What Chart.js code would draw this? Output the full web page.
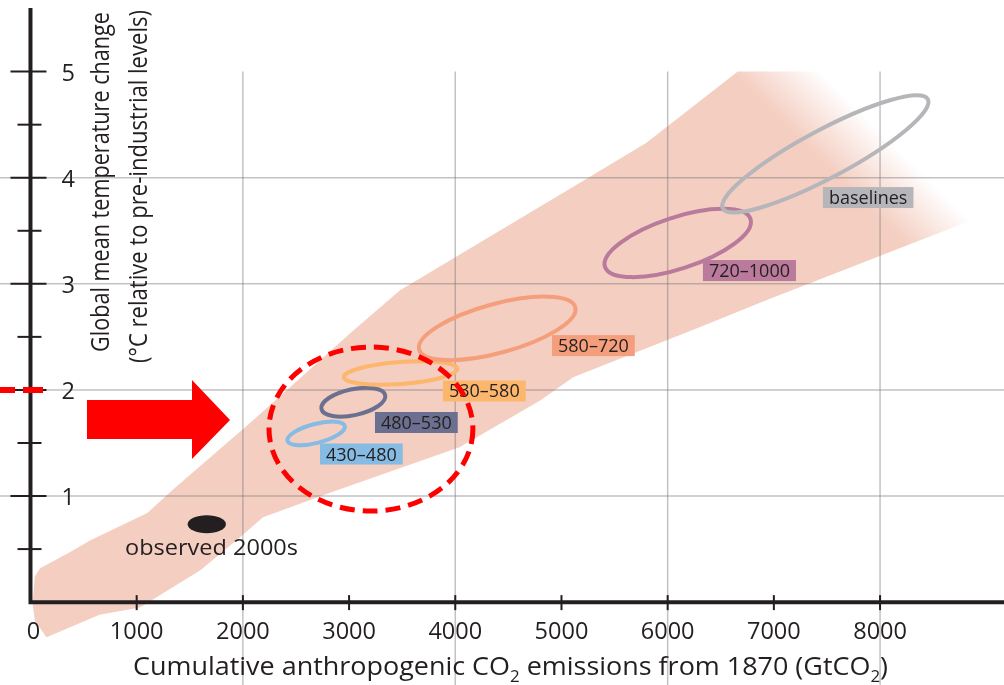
<!DOCTYPE html>
<html>
<head>
<meta charset="utf-8">
<script src="https://cdn.jsdelivr.net/npm/chart.js@4.4.1/dist/chart.umd.min.js"></script>
<style>
html,body{margin:0;padding:0;background:#ffffff;}
#wrap{width:1004px;height:685px;position:relative;overflow:hidden;}
</style>
</head>
<body>
<div id="wrap"><canvas id="c" width="1004" height="685"></canvas></div>
<script>
// ---------------- DATA ----------------
const xTickValues = [0, 1000, 2000, 3000, 4000, 5000, 6000, 7000, 8000];
const xTickLabels = ['0', '1000', '2000', '3000', '4000', '5000', '6000', '7000', '8000'];
const xGridValues = [2000, 4000, 6000, 8000];
const yTickValues = [1, 2, 3, 4, 5];
const yTickLabels = ['1', '2', '3', '4', '5'];
const yMinorTickValues = [0.5, 1.5, 2.5, 3.5, 4.5];
const yGridValues = [1, 2, 3, 4];

// Uncertainty band (upper edge left -> right, then lower edge right -> left)
const bandUpperX = [90, 370, 560, 1100, 1340, 2070, 3040, 3480, 5170, 5800, 6660, 9250];
const bandUpperY = [0.32, 0.47, 0.58, 0.84, 1.06, 1.69, 2.56, 2.94, 3.95, 4.33, 5.0, 5.0];
const bandLowerX = [9250, 8940, 6940, 6300, 5110, 4800, 4040, 2820, 2190, 1970, 1600, 1030, 650, 150, 40, 20, 40];
const bandLowerY = [3.72, 3.63, 2.85, 2.59, 2.12, 1.90, 1.46, 1.03, 0.80, 0.61, 0.30, -0.05, -0.12, -0.33, -0.17, -0.01, 0.24];

// Scenario categories (CO2-eq concentration ranges, ppm)
const scenarioNames = ['430–480', '480–530', '530–580', '580–720', '720–1000', 'baselines'];
const scenarioEmisLow  = [2420, 2740, 2950, 3660, 5410, 6520];
const scenarioTempLow  = [1.52, 1.82, 2.12, 2.38, 3.16, 3.71];
const scenarioEmisHigh = [2960, 3340, 4020, 5130, 6780, 8450];
const scenarioTempHigh = [1.66, 1.95, 2.20, 2.78, 3.61, 4.74];

// Observed 2000s
const observedLabel = 'observed 2000s';
const observedEmis = [1480, 1840];
const observedTemp = [0.65, 0.82];

// 2 °C threshold
const thresholdTemp = 2;

// ---------------- LAYOUT / STYLE ----------------
const FONT = '"Open Sans", "Noto Sans", "DejaVu Sans", sans-serif';
const INK = '#231f20';
const RED = '#ff0000';
const BAND_RGB = '244,206,193';
const GRID_COLOR = 'rgba(120,120,120,0.45)';
const scenarioColors = ['#86bbe3', '#6b7090', '#fcb76c', '#f49e7c', '#b97a9c', '#b6b6ba'];
const scenarioMinorPx = [9.5, 13, 11, 24.5, 25.7, 24];
const labelAnchorX = [2726, 3244, 3884, 4911, 6332, 7462];
const labelAnchorY = [1.396, 1.693, 1.99, 2.418, 3.125, 3.813];
const fadeFrom = {x: 7246, y: 4.355};
const fadeTo = {x: 7669, y: 4.779};
const focusCircle = {x: 3206, y: 1.631, rx: 960, ry: 0.773};
const arrowShape = {tail: 532, neck: 1521, tip: 1879, y: 1.717, bodyTop: 1.905, bodyBot: 1.537, headTop: 2.094, headBot: 1.349};
const thresholdLineEnd = 118;
const gridTop = 5;
const yAxisTop = 5.6;

function fitText(ctx, segs, x, y, targetW, align) {
  let w = 0;
  segs.forEach(s => { ctx.font = s.size + 'px ' + FONT; s.w = ctx.measureText(s.t).width; w += s.w; });
  const k = targetW ? targetW / w : 1;
  ctx.save();
  ctx.translate(x, y);
  ctx.scale(k, 1);
  let cx = align === 'center' ? -w / 2 : (align === 'right' ? -w : 0);
  ctx.textAlign = 'left';
  ctx.textBaseline = 'alphabetic';
  segs.forEach(s => { ctx.font = s.size + 'px ' + FONT; ctx.fillText(s.t, cx, s.dy || 0); cx += s.w; });
  ctx.restore();
}

const overlay = {
  id: 'overlay',
  afterDatasetsDraw(chart) {
    const ctx = chart.ctx, xs = chart.scales.x, ys = chart.scales.y, ca = chart.chartArea;
    const X = v => xs.getPixelForValue(v), Y = v => ys.getPixelForValue(v);
    ctx.save();

    // grid lines
    ctx.strokeStyle = GRID_COLOR;
    ctx.lineWidth = 1.5;
    xGridValues.forEach(v => { ctx.beginPath(); ctx.moveTo(X(v), Y(gridTop)); ctx.lineTo(X(v), ca.bottom); ctx.stroke(); });
    yGridValues.forEach(v => { ctx.beginPath(); ctx.moveTo(ca.left, Y(v)); ctx.lineTo(ca.right, Y(v)); ctx.stroke(); });

    // scenario ellipses
    scenarioNames.forEach((n, i) => {
      const x1 = X(scenarioEmisLow[i]), y1 = Y(scenarioTempLow[i]);
      const x2 = X(scenarioEmisHigh[i]), y2 = Y(scenarioTempHigh[i]);
      const cx = (x1 + x2) / 2, cy = (y1 + y2) / 2;
      const a = Math.hypot(x2 - x1, y2 - y1) / 2, ang = Math.atan2(y2 - y1, x2 - x1);
      ctx.beginPath();
      ctx.ellipse(cx, cy, a, scenarioMinorPx[i], ang, 0, Math.PI * 2);
      ctx.strokeStyle = scenarioColors[i];
      ctx.lineWidth = 4;
      ctx.stroke();
    });

    // scenario labels
    ctx.font = '18px ' + FONT;
    scenarioNames.forEach((n, i) => {
      const lx = X(labelAnchorX[i]), ly = Y(labelAnchorY[i]);
      const tw = ctx.measureText(n).width;
      ctx.fillStyle = scenarioColors[i];
      ctx.fillRect(lx, ly - 10.5, tw + 12, 21);
      ctx.fillStyle = INK;
      ctx.textAlign = 'left';
      ctx.textBaseline = 'alphabetic';
      ctx.fillText(n, lx + 6, ly + 6.5);
    });

    // observed 2000s
    const ox1 = X(observedEmis[0]), ox2 = X(observedEmis[1]);
    const oy1 = Y(observedTemp[0]), oy2 = Y(observedTemp[1]);
    ctx.beginPath();
    ctx.ellipse((ox1 + ox2) / 2, (oy1 + oy2) / 2, (ox2 - ox1) / 2, Math.abs(oy1 - oy2) / 2, 0, 0, Math.PI * 2);
    ctx.fillStyle = INK;
    ctx.fill();
    fitText(ctx, [{t: observedLabel, size: 21}], X(890), Y(0.443), 173, 'left');

    // red arrow
    ctx.beginPath();
    ctx.moveTo(X(arrowShape.tail), Y(arrowShape.bodyTop));
    ctx.lineTo(X(arrowShape.neck), Y(arrowShape.bodyTop));
    ctx.lineTo(X(arrowShape.neck), Y(arrowShape.headTop));
    ctx.lineTo(X(arrowShape.tip), Y(arrowShape.y));
    ctx.lineTo(X(arrowShape.neck), Y(arrowShape.headBot));
    ctx.lineTo(X(arrowShape.neck), Y(arrowShape.bodyBot));
    ctx.lineTo(X(arrowShape.tail), Y(arrowShape.bodyBot));
    ctx.closePath();
    ctx.fillStyle = RED;
    ctx.fill();

    // red dashed focus circle
    const fcx = X(focusCircle.x), fcy = Y(focusCircle.y);
    const frx = X(focusCircle.x + focusCircle.rx) - fcx, fry = fcy - Y(focusCircle.y + focusCircle.ry);
    ctx.beginPath();
    ctx.setLineDash([15, 8]);
    ctx.ellipse(fcx, fcy, frx, fry, 0, 0, Math.PI * 2);
    ctx.strokeStyle = RED;
    ctx.lineWidth = 5;
    ctx.stroke();
    ctx.setLineDash([]);

    // axes
    ctx.strokeStyle = INK;
    ctx.lineWidth = 4;
    ctx.lineJoin = 'miter';
    ctx.beginPath();
    ctx.moveTo(X(0), Y(yAxisTop));
    ctx.lineTo(X(0), Y(0));
    ctx.lineTo(ca.right, Y(0));
    ctx.stroke();

    ctx.lineWidth = 2;
    yTickValues.forEach(v => { ctx.beginPath(); ctx.moveTo(X(0) - 20, Y(v)); ctx.lineTo(X(0) + 16, Y(v)); ctx.stroke(); });
    yMinorTickValues.forEach(v => { ctx.beginPath(); ctx.moveTo(X(0) - 13, Y(v)); ctx.lineTo(X(0) + 11, Y(v)); ctx.stroke(); });
    xTickValues.forEach(v => { if (v === 0) return; ctx.beginPath(); ctx.moveTo(X(v), Y(0) - 7); ctx.lineTo(X(v), Y(0) + 8); ctx.stroke(); });

    // red dashed 2°C threshold
    ctx.beginPath();
    ctx.setLineDash([20, 8]);
    ctx.moveTo(X(thresholdLineEnd), Y(thresholdTemp));
    ctx.lineTo(ca.left, Y(thresholdTemp));
    ctx.strokeStyle = RED;
    ctx.lineWidth = 6;
    ctx.stroke();
    ctx.setLineDash([]);

    // tick labels
    ctx.fillStyle = INK;
    ctx.font = '23.5px ' + FONT;
    ctx.textBaseline = 'alphabetic';
    ctx.textAlign = 'center';
    xTickValues.forEach((v, i) => ctx.fillText(xTickLabels[i], X(v) + (v === 0 ? 3 : 0), Y(0) + 37));
    ctx.textAlign = 'left';
    yTickValues.forEach((v, i) => ctx.fillText(yTickLabels[i], X(0) + 31, Y(v) + 9));

    // axis titles
    fitText(ctx, [
      {t: 'Cumulative anthropogenic CO', size: 25.5},
      {t: '2', size: 16, dy: 7},
      {t: ' emissions from 1870 (GtCO', size: 25.5},
      {t: '2', size: 16, dy: 7},
      {t: ')', size: 25.5}
    ], 510.5, Y(0) + 73, 755, 'center');

    ctx.save();
    ctx.translate(X(0) + 79, 182);
    ctx.rotate(-Math.PI / 2);
    fitText(ctx, [{t: 'Global mean temperature change', size: 25.5}], 0, 0, 340, 'center');
    ctx.restore();
    ctx.save();
    ctx.translate(X(0) + 117, 186.5);
    ctx.rotate(-Math.PI / 2);
    fitText(ctx, [{t: '(°C relative to pre-industrial levels)', size: 25.5}], 0, 0, 353, 'center');
    ctx.restore();

    ctx.restore();
  }
};

const bandPoints = bandUpperX.map((x, i) => ({x: x, y: bandUpperY[i]}))
  .concat(bandLowerX.map((x, i) => ({x: x, y: bandLowerY[i]})));

new Chart(document.getElementById('c'), {
  type: 'line',
  data: {
    datasets: [{
      label: 'Temperature response range',
      data: bandPoints,
      fill: 'shape',
      borderWidth: 0,
      borderColor: 'rgba(0,0,0,0)',
      pointRadius: 0,
      tension: 0,
      backgroundColor: (c) => {
        const chart = c.chart;
        if (!chart.chartArea) return 'rgb(' + BAND_RGB + ')';
        const xs = chart.scales.x, ys = chart.scales.y;
        const g = chart.ctx.createLinearGradient(
          xs.getPixelForValue(fadeFrom.x), ys.getPixelForValue(fadeFrom.y),
          xs.getPixelForValue(fadeTo.x), ys.getPixelForValue(fadeTo.y));
        g.addColorStop(0, 'rgba(' + BAND_RGB + ',1)');
        g.addColorStop(1, 'rgba(' + BAND_RGB + ',0)');
        return g;
      }
    }]
  },
  options: {
    responsive: false,
    animation: false,
    devicePixelRatio: 1,
    layout: {padding: 0},
    plugins: {legend: {display: false}, tooltip: {enabled: false}},
    scales: {
      x: {type: 'linear', min: -287, max: 9167, display: false},
      y: {type: 'linear', min: -0.781, max: 5.675, display: false}
    }
  },
  plugins: [overlay]
});
</script>
</body>
</html>
